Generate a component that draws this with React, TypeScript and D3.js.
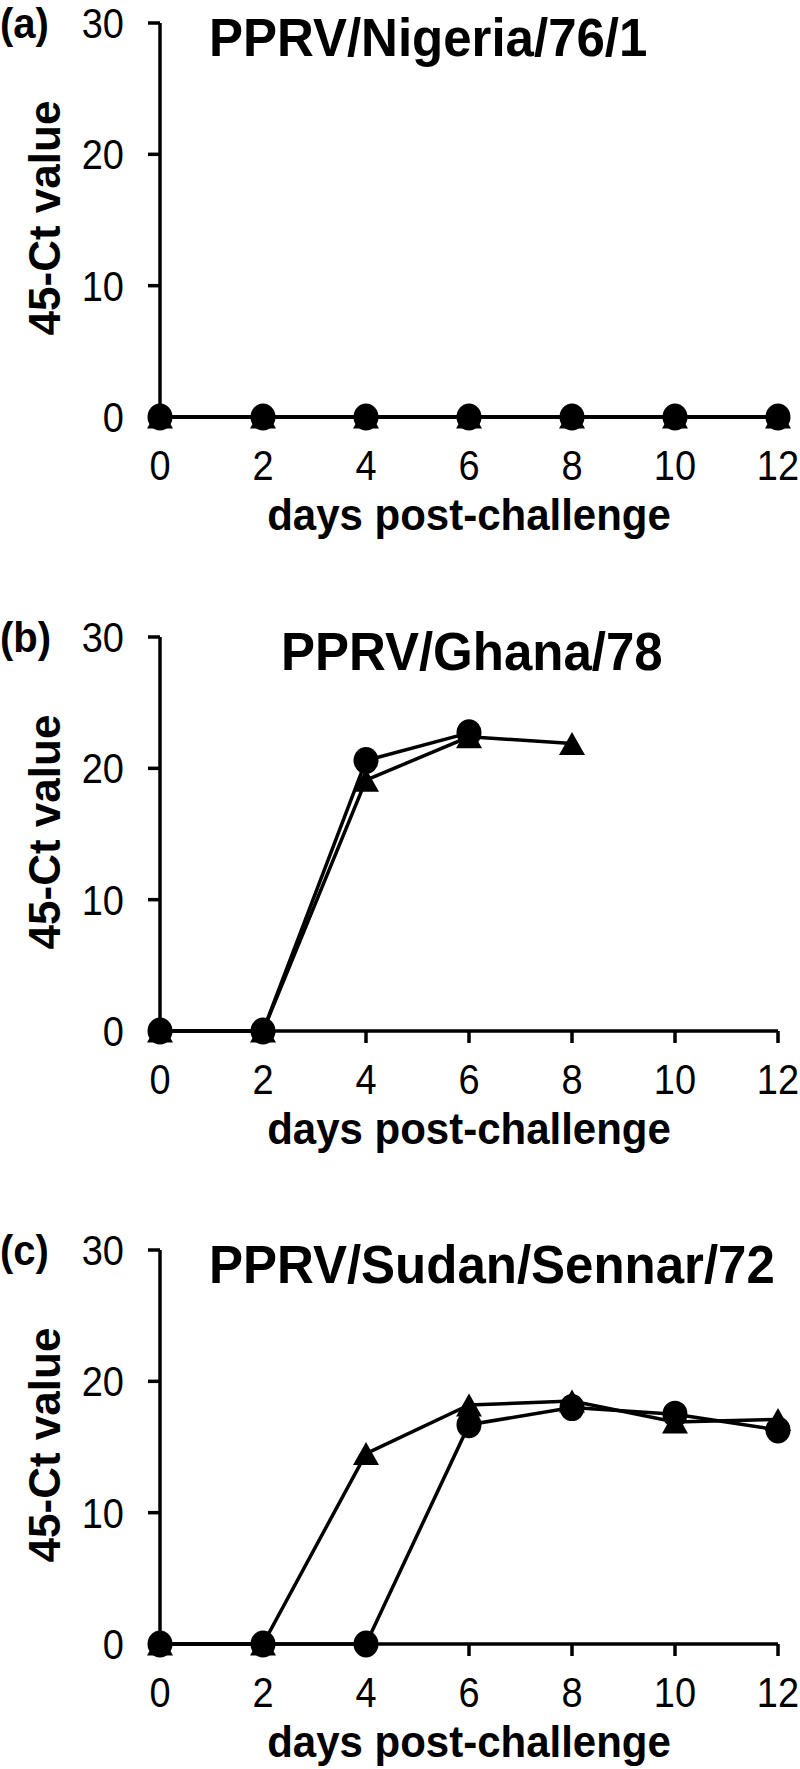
import React from "react";
import * as d3 from "d3";

const days = [0, 2, 4, 6, 8, 10, 12];
const yTicks = [0, 10, 20, 30];

const panelTags = ["(a)", "(b)", "(c)"];
const panelTitles = ["PPRV/Nigeria/76/1", "PPRV/Ghana/78", "PPRV/Sudan/Sennar/72"];

// circle series and triangle series, one value per day (null = not measured)
const nigeriaCircle = [0, 0, 0, 0, 0, 0, 0];
const nigeriaTriangle = [0, 0, 0, 0, 0, 0, 0];
const ghanaCircle = [0, 0, 20.6, 22.7, null, null, null];
const ghanaTriangle = [0, 0, 19.1, 22.4, 21.9, null, null];
const sudanCircle = [0, 0, 0, 16.7, 18.0, 17.5, 16.3];
const sudanTriangle = [0, 0, 14.5, 18.2, 18.5, 16.9, 17.1];

const circles = [nigeriaCircle, ghanaCircle, sudanCircle];
const triangles = [nigeriaTriangle, ghanaTriangle, sudanTriangle];

const W = 800;
const H = 1769;
const panelTop = [0, 614, 1227];
const titleX = [209, 281, 209];
const font = "'Liberation Sans', Arial, Helvetica, sans-serif";

const x = d3.scaleLinear().domain([0, 12]).range([160, 778]);
const y = d3.scaleLinear().domain([0, 30]).range([417, 23]);

type Pt = { d: number; v: number };

const toPts = (vals: (number | null)[]): Pt[] =>
  days.map((d, i) => ({ d, v: vals[i] as number })).filter((p, i) => vals[i] != null);

const line = d3
  .line<Pt>()
  .x((p) => x(p.d))
  .y((p) => y(p.v));

// triangle marker centred on its box, like the spreadsheet markers
const triW = 26;
const triH = 23;
const triPath = `M0,${-triH / 2}L${triW / 2},${triH / 2}L${-triW / 2},${triH / 2}Z`;

// text slightly stretched vertically, like the original figure
const T = (props: {
  x: number;
  y: number;
  size: number;
  bold?: boolean;
  anchor?: string;
  sx?: number;
  sy?: number;
  children: React.ReactNode;
}) => (
  <text
    transform={`translate(${props.x},${props.y}) scale(${props.sx || 1},${props.sy || 1})`}
    fontFamily={font}
    fontSize={props.size}
    fontWeight={props.bold ? "bold" : "normal"}
    textAnchor={props.anchor || "start"}
    fill="#000"
  >
    {props.children}
  </text>
);

const Panel = ({ idx }: { idx: number }) => {
  const cPts = toPts(circles[idx]);
  const tPts = toPts(triangles[idx]);
  const y0 = y(0);
  const y30 = y(30);
  return (
    <g transform={`translate(0,${panelTop[idx]})`}>
      <T x={0} y={y30 + 15} size={40} bold sy={1.06}>
        {panelTags[idx]}
      </T>
      <T x={titleX[idx]} y={y30 + 33} size={51} bold sy={1.05}>
        {panelTitles[idx]}
      </T>

      {/* y axis */}
      <line x1={x(0)} x2={x(0)} y1={y30} y2={y0} stroke="#000" strokeWidth={3.5} />
      {yTicks.map((t) => (
        <g key={t}>
          <line x1={x(0) - 12} x2={x(0)} y1={y(t)} y2={y(t)} stroke="#000" strokeWidth={3.5} />
          <T x={124} y={y(t) + 15} size={40} anchor="end" sx={0.95} sy={1.08}>
            {t}
          </T>
        </g>
      ))}
      <text
        transform={`translate(60,${(y0 + y30) / 2 - 2}) rotate(-90)`}
        textAnchor="middle"
        fontFamily={font}
        fontWeight="bold"
        fontSize={44}
      >
        45-Ct value
      </text>

      {/* x axis */}
      <line x1={x(0)} x2={x(12)} y1={y0} y2={y0} stroke="#000" strokeWidth={3.5} />
      {days.map((d) => (
        <g key={d}>
          <line x1={x(d)} x2={x(d)} y1={y0} y2={y0 + 12} stroke="#000" strokeWidth={3.5} />
          <T x={x(d)} y={y0 + 63} size={40} anchor="middle" sx={0.95} sy={1.08}>
            {d}
          </T>
        </g>
      ))}
      <T x={469} y={y0 + 113} size={42} bold anchor="middle" sy={1.05}>
        days post-challenge
      </T>

      {/* triangle series */}
      <path d={line(tPts) || ""} fill="none" stroke="#000" strokeWidth={3.5} />
      {tPts.map((p) => (
        <path key={p.d} d={triPath} transform={`translate(${x(p.d)},${y(p.v)})`} fill="#000" />
      ))}

      {/* circle series */}
      <path d={line(cPts) || ""} fill="none" stroke="#000" strokeWidth={3.5} />
      {cPts.map((p) => (
        <ellipse key={p.d} cx={x(p.d)} cy={y(p.v)} rx={12.5} ry={13.5} fill="#000" />
      ))}
    </g>
  );
};

const App = () => {
  return (
    <svg
      width={W}
      height={H}
      style={{ position: "absolute", left: 0, top: 0, background: "#fff" }}
    >
      <rect width={W} height={H} fill="#fff" />
      {[0, 1, 2].map((i) => (
        <Panel key={i} idx={i} />
      ))}
    </svg>
  );
};

export default App;
